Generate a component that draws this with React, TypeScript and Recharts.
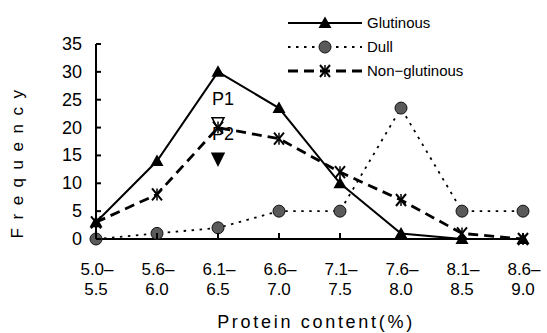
import React from "react";
import { LineChart, Line, XAxis, YAxis, Legend, ReferenceDot } from "recharts";

const FONT = '"Liberation Sans", Arial, Helvetica, sans-serif';

// protein content classes (%)
const rangeFrom = ["5.0", "5.6", "6.1", "6.6", "7.1", "7.6", "8.1", "8.6"];
const rangeTo = ["5.5", "6.0", "6.5", "7.0", "7.5", "8.0", "8.5", "9.0"];

// frequency per class
const glutinous = [3, 14, 30, 23.5, 10, 1, 0, 0];
const dull = [0, 1, 2, 5, 5, 23.5, 5, 5];
const nonGlutinous = [3, 8, 20, 18, 12, 7, 1, 0];

const yTicks = [0, 5, 10, 15, 20, 25, 30, 35];

// P1 / P2 marks, both in the 6.1-6.5 class
const peakLabels = ["P1", "P2"];
const peakValues = [20.7, 14.3];
const peakClass = 2;

const data = rangeFrom.map((lo, i) => ({
  range: `${lo}–${rangeTo[i]}`,
  glutinous: glutinous[i],
  dull: dull[i],
  nonGlutinous: nonGlutinous[i],
}));

const TriangleUp = ({ cx, cy }: any) => (
  <path d={`M${cx},${cy - 6.5} L${cx + 6.5},${cy + 5} L${cx - 6.5},${cy + 5} Z`} fill="#000" />
);

const Circle = ({ cx, cy }: any) => (
  <circle cx={cx} cy={cy} r={6} fill="#5a5a5a" stroke="#111" strokeWidth={1} />
);

const Asterisk = ({ cx, cy }: any) => (
  <g stroke="#000" strokeWidth={2}>
    <line x1={cx - 5} y1={cy - 6} x2={cx + 5} y2={cy + 6} />
    <line x1={cx + 5} y1={cy - 6} x2={cx - 5} y2={cy + 6} />
    <line x1={cx} y1={cy - 6} x2={cx} y2={cy + 6} strokeWidth={1.5} />
  </g>
);

const SERIES = [
  { key: "glutinous", name: "Glutinous", width: 2, dash: undefined, Marker: TriangleUp },
  { key: "dull", name: "Dull", width: 1.8, dash: "2.5 5.5", Marker: Circle },
  { key: "nonGlutinous", name: "Non−glutinous", width: 2.8, dash: "10 6", Marker: Asterisk },
];

const YTick = ({ x, y, payload }: any) => (
  <g>
    <line x1={x} y1={y} x2={x + 5} y2={y} stroke="#000" strokeWidth={2} />
    <text x={x - 14} y={y + 6} textAnchor="end" fontSize={18} fontFamily={FONT} fill="#000">
      {payload.value}
    </text>
  </g>
);

const XTick = ({ x, y, payload }: any) => {
  const [lo, hi] = String(payload.value).split("–");
  return (
    <g>
      <line x1={x} y1={y} x2={x} y2={y - 6} stroke="#000" strokeWidth={2} />
      <text x={x + 1} y={y + 36} textAnchor="middle" fontSize={17} fontFamily={FONT} fill="#000">
        {lo}–
      </text>
      <text x={x} y={y + 56} textAnchor="middle" fontSize={17} fontFamily={FONT} fill="#000">
        {hi}
      </text>
    </g>
  );
};

const LegendBox = () => (
  <svg width={267} height={90}>
    {SERIES.map((s, i) => {
      const y = 23 + i * 24;
      const M = s.Marker;
      return (
        <g key={s.key}>
          <line x1={8} y1={y} x2={82} y2={y} stroke="#000" strokeWidth={s.width} strokeDasharray={s.dash} />
          <M cx={45} cy={y} />
          <text x={87} y={y + 5} fontSize={15} fontFamily={FONT} fill="#000">
            {s.name}
          </text>
        </g>
      );
    })}
  </svg>
);

const DownTriangle = ({ cx, cy, filled, label }: any) => (
  <g>
    <path
      d={`M${cx - 6},${cy - 6} L${cx + 6},${cy - 6} L${cx},${cy + 6} Z`}
      fill={filled ? "#000" : "none"}
      stroke="#000"
      strokeWidth={1.5}
    />
    <text x={cx - 6} y={cy - 19} fontSize={18} fontFamily={FONT} fill="#000">
      {label}
    </text>
  </g>
);

export default function App() {
  return (
    <div style={{ position: "absolute", left: 0, top: 0, background: "#fff" }}>
      <LineChart width={547} height={333} data={data} margin={{ top: 44, right: 24, left: 0, bottom: 0 }}>
        <XAxis
          dataKey="range"
          height={94}
          axisLine={{ stroke: "#000", strokeWidth: 2 }}
          tickLine={false}
          tickSize={0}
          tickMargin={0}
          tick={<XTick />}
          interval={0}
          label={{
            content: () => (
              <text x={316} y={328} textAnchor="middle" fontSize={18} letterSpacing={2.7} fontFamily={FONT} fill="#000">
                Protein content(%)
              </text>
            ),
          }}
        />
        <YAxis
          width={96}
          domain={[0, 35]}
          ticks={yTicks}
          axisLine={{ stroke: "#000", strokeWidth: 2 }}
          tickLine={false}
          tickSize={0}
          tickMargin={0}
          tick={<YTick />}
          label={{
            content: () => (
              <text
                x={23}
                y={160}
                transform="rotate(-90 23 160)"
                textAnchor="middle"
                fontSize={17}
                letterSpacing={8.5}
                fontFamily={FONT}
                fill="#000"
              >
                Frequency
              </text>
            ),
          }}
        />
        <Legend
          layout="vertical"
          align="center"
          verticalAlign="middle"
          wrapperStyle={{ left: 280, top: 0, width: 267, height: 90 }}
          content={<LegendBox />}
        />
        {[SERIES[1], SERIES[0], SERIES[2]].map((s) => (
          <Line
            key={s.key}
            dataKey={s.key}
            name={s.name}
            stroke="#000"
            strokeWidth={s.width}
            strokeDasharray={s.dash}
            dot={(p: any) => <s.Marker key={`${s.key}-${p.index}`} cx={p.cx} cy={p.cy} />}
            activeDot={false}
            isAnimationActive={false}
          />
        ))}
        {peakValues.map((v, i) => (
          <ReferenceDot
            key={peakLabels[i]}
            x={data[peakClass].range}
            y={v}
            r={6}
            shape={(p: any) => <DownTriangle cx={p.cx} cy={p.cy} filled={i === 1} label={peakLabels[i]} />}
          />
        ))}
      </LineChart>
    </div>
  );
}
